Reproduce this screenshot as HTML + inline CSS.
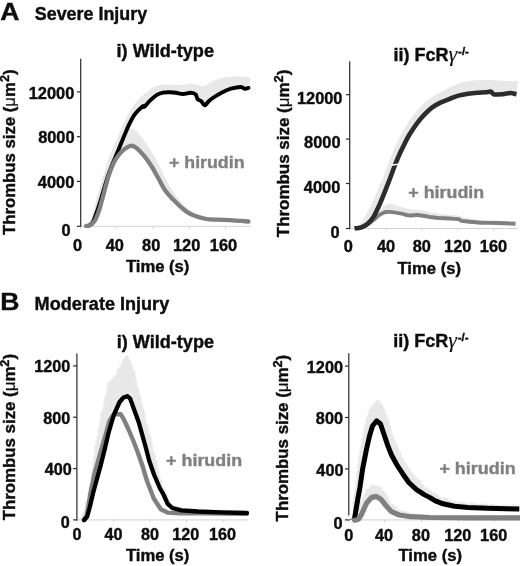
<!DOCTYPE html>
<html lang="en"><head><meta charset="utf-8"><title>Thrombus size figure</title>
<style>html,body{margin:0;padding:0;background:#fff;}body{width:520px;height:566px;overflow:hidden;}svg{display:block;font-family:'Liberation Sans', sans-serif;filter:blur(0.45px);}</style></head><body>
<svg width="520" height="566" viewBox="0 0 520 566">
<rect width="520" height="566" fill="#fff"/>
<text x="0.3" y="19.7" font-size="24.3" font-weight="bold" text-anchor="start" fill="#0d0d0d" stroke="#0d0d0d" stroke-width="0.4" textLength="19.2" lengthAdjust="spacingAndGlyphs">A</text>
<text x="34.8" y="20" font-size="18" font-weight="bold" text-anchor="start" fill="#0d0d0d" stroke="#0d0d0d" stroke-width="0.4" textLength="112.3" lengthAdjust="spacingAndGlyphs">Severe Injury</text>
<text x="0.2" y="310" font-size="24.3" font-weight="bold" text-anchor="start" fill="#0d0d0d" stroke="#0d0d0d" stroke-width="0.4" textLength="19.2" lengthAdjust="spacingAndGlyphs">B</text>
<text x="34.6" y="310" font-size="18" font-weight="bold" text-anchor="start" fill="#0d0d0d" stroke="#0d0d0d" stroke-width="0.4" textLength="134.6" lengthAdjust="spacingAndGlyphs">Moderate Injury</text>
<g id="chartAi">
<path d="M86.2,226 C86.7,225.6 88.1,225 89,223.5 C89.9,222 90.5,220.1 91.5,217 C92.5,213.9 93.7,209.5 95,205 C96.3,200.5 97.5,195.8 99.2,190 C100.9,184.2 103.1,176.2 105,170 C106.9,163.8 108.9,158 110.8,153 C112.7,148 114.3,145.2 116.5,140 C118.7,134.8 122,126.8 124.2,122 C126.5,117.2 127.9,114.5 130,111 C132.1,107.5 134.5,103.9 137,101 C139.5,98.1 142.5,95.7 145,93.5 C147.5,91.3 149.5,89.4 152,88 C154.5,86.6 157,85.8 160,85.2 C163,84.6 166.7,84.6 170,84.6 C173.3,84.6 176.5,85.1 180,85 C183.5,84.9 187.8,84 190.8,84 C193.8,84 195.8,84.6 198,85 C200.2,85.4 202,86.7 204,86.3 C206,85.9 207.7,83.7 210,82.5 C212.3,81.3 214.8,80.1 217.7,79.2 C220.6,78.3 224.1,77.5 227.3,77 C230.5,76.5 234.1,76.3 237,76.3 C239.9,76.3 242.7,76.5 245,76.8 C247.3,77.1 250,77.8 251,78 L248.5,87.9 C247.8,88.1 245.9,89 244.6,88.8 C243.3,88.6 243.1,87 240.8,87 C238.5,87 234.2,87.8 231,88.7 C227.8,89.7 224.7,91.1 221.5,92.7 C218.3,94.3 214.2,97 212,98.5 C209.8,100 209.2,100.8 208,102 C206.8,103.2 205.7,105.5 204.6,105.4 C203.5,105.3 202.5,102.4 201.3,101.3 C200.1,100.2 198.4,100.2 197.5,99 C196.6,97.8 196.7,95.5 195.6,94.4 C194.5,93.4 192.9,92.8 190.8,92.7 C188.7,92.6 185.5,94 183,94 C180.5,94 178.2,93.1 176,92.8 C173.8,92.5 172.2,92.3 170,92.3 C167.8,92.3 165,92.2 162.9,92.6 C160.8,93 159.5,93.3 157.3,94.6 C155.2,95.9 152.2,98.6 150,100.6 C147.8,102.6 145.6,105.8 144.3,106.8 C143.1,107.8 144,105.2 142.5,106.4 C141,107.6 137.3,111 135.2,113.8 C133,116.6 131.2,120.5 129.6,123.5 C128,126.5 127,129.1 125.8,132 C124.5,134.9 123.4,137.9 122.1,141 C120.8,144.1 119.8,146.6 118.2,150.4 C116.6,154.2 114.5,159 112.6,163.8 C110.7,168.7 108.7,173.6 106.8,179.5 C104.9,185.4 102.7,193.6 101,199 C99.3,204.4 98.1,208.2 96.8,212 C95.5,215.8 94.3,219.3 93.2,221.5 C92.1,223.7 91.1,224.2 90,225 C88.9,225.8 87.1,225.8 86.5,226 Z" fill="#e8e8e8" stroke="none"/>
<path d="M86.2,226 C87.1,225.4 90,224.2 91.5,222.5 C93,220.8 94.1,218.9 95.4,216 C96.7,213.1 97.8,210 99.2,205 C100.6,200 102.4,192.2 104,186 C105.6,179.8 107.2,173.2 108.8,167.5 C110.4,161.8 112.1,156.4 113.7,152 C115.3,147.6 116.8,144.2 118.5,141 C120.2,137.8 122.2,135.1 124.2,133 C126.2,130.9 128.5,128.9 130.4,128.5 C132.3,128.1 133.6,128.7 135.8,130.5 C138,132.3 140.9,136.2 143.5,139.6 C146.1,143 148.6,146.8 151.2,151 C153.8,155.2 156.2,159.6 158.8,164.5 C161.4,169.4 163.9,175.8 166.5,180.5 C169.1,185.2 171.8,189.4 174.2,193 C176.6,196.6 179.1,199.8 181.2,202.3 C183.3,204.8 184.7,206.1 186.9,208 C189.1,209.9 191.4,212 194.6,213.5 C197.8,215 202.3,216.3 206.2,217 C210,217.7 213.2,217.6 217.7,217.8 C222.2,218.1 227.6,218.2 233,218.5 C238.4,218.8 247.2,219.6 250,219.8 L248.5,221.5 C245.9,221.3 238.1,220.6 233,220.3 C227.9,220 222.2,219.9 217.7,219.7 C213.2,219.5 210,219.7 206.2,219 C202.3,218.3 197.8,217 194.6,215.8 C191.4,214.6 189.2,213.4 186.9,211.9 C184.6,210.4 183.2,209.1 181,207.1 C178.8,205.1 176,202.5 173.4,199.8 C170.8,197.1 167.9,194.4 165.4,190.8 C162.9,187.2 160.7,182.5 158.3,178.3 C155.9,174.1 153.7,169.7 151.2,165.8 C148.7,162 146.1,158.2 143.5,155.2 C140.9,152.1 138,149.1 135.8,147.5 C133.6,145.9 132.3,145.5 130.4,145.8 C128.5,146.1 126.2,147.8 124.2,149.4 C122.2,151 120.2,152.9 118.5,155.2 C116.8,157.4 115.3,159.5 113.7,162.9 C112.1,166.3 110.4,170.4 108.8,175.4 C107.2,180.4 105.6,186.9 104,192.7 C102.4,198.5 100.6,205.5 99.2,210 C97.8,214.5 96.6,217.2 95.4,219.6 C94.2,222 92.9,223.2 91.8,224.2 C90.7,225.2 89.9,225.2 89,225.5 C88.1,225.8 86.7,225.9 86.2,226 Z" fill="#e8e8e8" stroke="none"/>
<line x1="80.7" y1="226.3" x2="250.5" y2="226.3" stroke="#d2d2d2" stroke-width="1"/>
<line x1="80.5" y1="226.3" x2="80.5" y2="228.8" stroke="#d2d2d2" stroke-width="1"/>
<line x1="116.8" y1="226.3" x2="116.8" y2="228.8" stroke="#d2d2d2" stroke-width="1"/>
<line x1="153" y1="226.3" x2="153" y2="228.8" stroke="#d2d2d2" stroke-width="1"/>
<line x1="189.3" y1="226.3" x2="189.3" y2="228.8" stroke="#d2d2d2" stroke-width="1"/>
<line x1="225.5" y1="226.3" x2="225.5" y2="228.8" stroke="#d2d2d2" stroke-width="1"/>
<line x1="80.7" y1="58.8" x2="80.7" y2="226.8" stroke="#2a2a2a" stroke-width="1.2"/>
<line x1="76.9" y1="226.3" x2="80.7" y2="226.3" stroke="#2a2a2a" stroke-width="1.2"/>
<line x1="76.9" y1="181.4" x2="80.7" y2="181.4" stroke="#2a2a2a" stroke-width="1.2"/>
<line x1="76.9" y1="136.7" x2="80.7" y2="136.7" stroke="#2a2a2a" stroke-width="1.2"/>
<line x1="76.9" y1="91.9" x2="80.7" y2="91.9" stroke="#2a2a2a" stroke-width="1.2"/>
<text x="70.5" y="235.8" font-size="16.4" font-weight="bold" text-anchor="end" fill="#0d0d0d" stroke="#0d0d0d" stroke-width="0.4">0</text>
<text x="74.3" y="188.3" font-size="16.4" font-weight="bold" text-anchor="end" fill="#0d0d0d" stroke="#0d0d0d" stroke-width="0.4">4000</text>
<text x="74.6" y="142.8" font-size="16.4" font-weight="bold" text-anchor="end" fill="#0d0d0d" stroke="#0d0d0d" stroke-width="0.4">8000</text>
<text x="74.3" y="98.9" font-size="16.4" font-weight="bold" text-anchor="end" fill="#0d0d0d" stroke="#0d0d0d" stroke-width="0.4">12000</text>
<text x="77.5" y="251" font-size="16.4" font-weight="bold" text-anchor="middle" fill="#0d0d0d" stroke="#0d0d0d" stroke-width="0.4">0</text>
<text x="114.8" y="251" font-size="16.4" font-weight="bold" text-anchor="middle" fill="#0d0d0d" stroke="#0d0d0d" stroke-width="0.4">40</text>
<text x="151.2" y="251" font-size="16.4" font-weight="bold" text-anchor="middle" fill="#0d0d0d" stroke="#0d0d0d" stroke-width="0.4">80</text>
<text x="186.6" y="251" font-size="16.4" font-weight="bold" text-anchor="middle" fill="#0d0d0d" stroke="#0d0d0d" stroke-width="0.4">120</text>
<text x="223.5" y="251" font-size="16.4" font-weight="bold" text-anchor="middle" fill="#0d0d0d" stroke="#0d0d0d" stroke-width="0.4">160</text>
<text x="125.9" y="272.3" font-size="16.5" font-weight="bold" text-anchor="start" fill="#0d0d0d" stroke="#0d0d0d" stroke-width="0.4" textLength="63.5" lengthAdjust="spacingAndGlyphs">Time (s)</text>
<text transform="translate(15.1,235) rotate(-90)" font-size="16" font-weight="bold" fill="#0d0d0d" stroke="#0d0d0d" stroke-width="0.4" textLength="165.5" lengthAdjust="spacingAndGlyphs">Thrombus size (<tspan font-weight="normal" stroke-width="0.15">&#956;</tspan>m<tspan font-size="12" dy="-6">2</tspan><tspan dy="6">)</tspan></text>
<path d="M86.5,226 C87.1,225.8 88.9,225.8 90,225 C91.1,224.2 92.1,223.7 93.2,221.5 C94.3,219.3 95.5,215.8 96.8,212 C98.1,208.2 99.3,204.4 101,199 C102.7,193.6 104.9,185.4 106.8,179.5 C108.7,173.6 110.7,168.7 112.6,163.8 C114.5,159 116.6,154.2 118.2,150.4 C119.8,146.6 120.8,144.1 122.1,141 C123.4,137.9 124.5,134.9 125.8,132 C127,129.1 128,126.5 129.6,123.5 C131.2,120.5 133,116.6 135.2,113.8 C137.3,111 141,107.6 142.5,106.4 C144,105.2 143.1,107.8 144.3,106.8 C145.6,105.8 147.8,102.6 150,100.6 C152.2,98.6 155.2,95.9 157.3,94.6 C159.5,93.3 160.8,93 162.9,92.6 C165,92.2 167.8,92.3 170,92.3 C172.2,92.3 173.8,92.5 176,92.8 C178.2,93.1 180.5,94 183,94 C185.5,94 188.7,92.6 190.8,92.7 C192.9,92.8 194.5,93.4 195.6,94.4 C196.7,95.5 196.6,97.8 197.5,99 C198.4,100.2 200.1,100.2 201.3,101.3 C202.5,102.4 203.5,105.3 204.6,105.4 C205.7,105.5 206.8,103.2 208,102 C209.2,100.8 209.8,100 212,98.5 C214.2,97 218.3,94.3 221.5,92.7 C224.7,91.1 227.8,89.7 231,88.7 C234.2,87.8 238.5,87 240.8,87 C243.1,87 243.3,88.6 244.6,88.8 C245.9,89 247.8,88.1 248.5,87.9" fill="none" stroke="#000" stroke-width="3.9" stroke-linejoin="round" stroke-linecap="round"/>
<path d="M86.2,226 C86.7,225.9 88.1,225.8 89,225.5 C89.9,225.2 90.7,225.2 91.8,224.2 C92.9,223.2 94.2,222 95.4,219.6 C96.6,217.2 97.8,214.5 99.2,210 C100.6,205.5 102.4,198.5 104,192.7 C105.6,186.9 107.2,180.4 108.8,175.4 C110.4,170.4 112.1,166.3 113.7,162.9 C115.3,159.5 116.8,157.4 118.5,155.2 C120.2,152.9 122.2,151 124.2,149.4 C126.2,147.8 128.5,146.1 130.4,145.8 C132.3,145.5 133.6,145.9 135.8,147.5 C138,149.1 140.9,152.1 143.5,155.2 C146.1,158.2 148.7,162 151.2,165.8 C153.7,169.7 155.9,174.1 158.3,178.3 C160.7,182.5 162.9,187.2 165.4,190.8 C167.9,194.4 170.8,197.1 173.4,199.8 C176,202.5 178.8,205.1 181,207.1 C183.2,209.1 184.6,210.4 186.9,211.9 C189.2,213.4 191.4,214.6 194.6,215.8 C197.8,217 202.3,218.3 206.2,219 C210,219.7 213.2,219.5 217.7,219.7 C222.2,219.9 227.9,220 233,220.3 C238.1,220.6 245.9,221.3 248.5,221.5" fill="none" stroke="#808080" stroke-width="4.3" stroke-linejoin="round" stroke-linecap="round"/>
<text x="169" y="168.2" font-size="17.4" font-weight="bold" text-anchor="start" fill="#808080" stroke="#808080" stroke-width="0.4" textLength="75.5" lengthAdjust="spacingAndGlyphs">+ hirudin</text>
<text x="116.6" y="57.1" font-size="18" font-weight="bold" text-anchor="start" fill="#0d0d0d" stroke="#0d0d0d" stroke-width="0.4" textLength="97.4" lengthAdjust="spacingAndGlyphs">i) Wild-type</text>
</g>
<g id="chartAii">
<path d="M354.4,228.3 C355.1,227.9 357.2,227.1 358.5,226 C359.8,224.9 360.7,224 362,222 C363.3,220 364.8,217.3 366.5,214 C368.2,210.7 370.6,206.2 372.5,202 C374.4,197.8 376.3,193.4 378.2,189 C380.1,184.6 382.2,179.9 384,175.5 C385.8,171.1 387.2,166.7 388.8,162.5 C390.4,158.3 392.1,154.1 393.6,150.5 C395.1,146.9 396.4,144.2 398,141 C399.6,137.8 400.9,134.7 403,131 C405.1,127.3 408,122.6 410.5,119 C413,115.4 415.6,112.2 418,109.5 C420.4,106.8 422.2,105.1 424.6,103 C427,100.9 429.7,98.7 432.3,97 C434.9,95.3 437.2,94.3 440,92.8 C442.8,91.3 445.7,89.3 448.8,87.8 C451.9,86.3 455.3,84.7 458.5,83.6 C461.7,82.5 464.8,81.6 468,81 C471.2,80.4 474.5,80.4 477.7,80.2 C480.9,80 484.1,79.7 487.3,79.8 C490.5,79.9 493.8,80.4 497,80.6 C500.2,80.8 503,80.9 506.5,81 C510,81.1 516.1,81 518,81 L516.5,94.2 C515.5,94 512.7,93 510.4,93 C508.1,93 505.4,94 502.7,94.2 C500,94.4 495.9,94.8 494,94.4 C492.1,94 492.4,92.1 491,91.7 C489.6,91.3 487.6,92.1 485.4,92.3 C483.2,92.5 480.6,92.5 477.7,92.7 C474.8,92.9 471.2,93.2 468,93.7 C464.8,94.2 461.4,94.8 458.5,95.6 C455.6,96.4 453.9,97.3 450.8,98.5 C447.7,99.7 443.1,101.4 440,102.9 C436.9,104.4 434.9,105.5 432.3,107.4 C429.7,109.3 427.2,111.7 424.6,114.3 C422.1,116.9 419.6,119.8 417,123.3 C414.4,126.8 411.4,131.4 409.2,135 C407,138.6 405.6,141.8 404,145 C402.4,148.2 401.1,150.6 399.6,154 C398.1,157.4 396.4,161.4 394.8,165.5 C393.2,169.6 391.7,174.1 390,178.5 C388.3,182.9 386.6,187.4 384.8,191.9 C383,196.4 381.1,201.2 379.2,205.4 C377.3,209.6 375.4,213.9 373.5,216.9 C371.6,219.9 369.6,222 367.7,223.7 C365.8,225.4 363.5,226.5 362,227.2 C360.5,227.9 359.7,227.8 358.5,228 C357.3,228.2 355.2,228.2 354.6,228.3 Z" fill="#e8e8e8" stroke="none"/>
<path d="M354.6,228.3 C356.7,227.7 363.6,226.2 366.9,224.6 C370.2,223 372.7,220.8 374.6,219 C376.5,217.2 377.1,215.6 378.3,213.8 C379.5,212 380.7,209.8 382,208.2 C383.3,206.6 384.9,205.1 386.2,204.4 C387.5,203.7 388.7,203.8 390,203.8 C391.3,203.8 392.1,203.9 394,204.4 C395.9,204.9 399,206 401.5,206.8 C404,207.6 406.6,208.8 409.2,209.2 C411.8,209.6 414.4,209.2 417,209.5 C419.6,209.8 422.1,210.3 424.6,210.8 C427.2,211.3 429.7,212.1 432.3,212.6 C434.9,213.1 437.2,213.4 440,213.8 C442.8,214.2 445.7,214.5 448.8,214.8 C451.9,215.1 455,215.1 458.5,215.8 C462,216.5 466.2,218.1 470,218.8 C473.8,219.5 477,219.9 481.5,220.2 C486,220.5 491.1,220.4 497,220.6 C502.9,220.8 513.7,221.3 517,221.4 L515.5,223.7 C512.4,223.6 502.7,223.2 497,223 C491.3,222.8 486,222.9 481.5,222.7 C477,222.5 473.4,222 470,221.7 C466.6,221.4 463.2,221.2 461.3,220.8 C459.4,220.4 460.6,219.6 458.5,219.2 C456.4,218.8 451.9,218.7 448.8,218.5 C445.7,218.3 442.8,218.3 440,218.1 C437.2,217.9 434.9,217.7 432.3,217.3 C429.7,217 427.2,216.4 424.6,216 C422.1,215.6 419.6,215.1 417,215 C414.4,214.9 411.8,215.6 409.2,215.4 C406.6,215.2 404.4,214.2 401.5,213.7 C398.6,213.1 394.6,212.4 392,212.1 C389.4,211.8 387.9,211.8 386.2,212 C384.5,212.2 383.3,212.8 382,213.4 C380.7,214 379.5,214.9 378.3,215.8 C377.1,216.7 375.8,218 374.6,219 C373.4,220 372.3,221.1 371,222 C369.7,222.9 368.5,223.7 366.9,224.6 C365.3,225.5 363.2,226.9 361.2,227.5 C359.1,228.1 355.7,228.2 354.6,228.3 Z" fill="#e8e8e8" stroke="none"/>
<line x1="349.7" y1="228.5" x2="518" y2="228.5" stroke="#d2d2d2" stroke-width="1"/>
<line x1="349.7" y1="228.5" x2="349.7" y2="231" stroke="#d2d2d2" stroke-width="1"/>
<line x1="385.8" y1="228.5" x2="385.8" y2="231" stroke="#d2d2d2" stroke-width="1"/>
<line x1="421.8" y1="228.5" x2="421.8" y2="231" stroke="#d2d2d2" stroke-width="1"/>
<line x1="458" y1="228.5" x2="458" y2="231" stroke="#d2d2d2" stroke-width="1"/>
<line x1="493.8" y1="228.5" x2="493.8" y2="231" stroke="#d2d2d2" stroke-width="1"/>
<line x1="349.7" y1="61.2" x2="349.7" y2="229" stroke="#2a2a2a" stroke-width="1.2"/>
<line x1="345.9" y1="228.5" x2="349.7" y2="228.5" stroke="#2a2a2a" stroke-width="1.2"/>
<line x1="345.9" y1="183.5" x2="349.7" y2="183.5" stroke="#2a2a2a" stroke-width="1.2"/>
<line x1="345.9" y1="139.1" x2="349.7" y2="139.1" stroke="#2a2a2a" stroke-width="1.2"/>
<line x1="345.9" y1="94.7" x2="349.7" y2="94.7" stroke="#2a2a2a" stroke-width="1.2"/>
<text x="339.7" y="237.7" font-size="16.4" font-weight="bold" text-anchor="end" fill="#0d0d0d" stroke="#0d0d0d" stroke-width="0.4">0</text>
<text x="340.3" y="192.6" font-size="16.4" font-weight="bold" text-anchor="end" fill="#0d0d0d" stroke="#0d0d0d" stroke-width="0.4">4000</text>
<text x="340.5" y="147.8" font-size="16.4" font-weight="bold" text-anchor="end" fill="#0d0d0d" stroke="#0d0d0d" stroke-width="0.4">8000</text>
<text x="342.5" y="103.7" font-size="16.4" font-weight="bold" text-anchor="end" fill="#0d0d0d" stroke="#0d0d0d" stroke-width="0.4">12000</text>
<text x="348.3" y="252.3" font-size="16.4" font-weight="bold" text-anchor="middle" fill="#0d0d0d" stroke="#0d0d0d" stroke-width="0.4">0</text>
<text x="386" y="252.3" font-size="16.4" font-weight="bold" text-anchor="middle" fill="#0d0d0d" stroke="#0d0d0d" stroke-width="0.4">40</text>
<text x="421.8" y="252.3" font-size="16.4" font-weight="bold" text-anchor="middle" fill="#0d0d0d" stroke="#0d0d0d" stroke-width="0.4">80</text>
<text x="457.7" y="252.3" font-size="16.4" font-weight="bold" text-anchor="middle" fill="#0d0d0d" stroke="#0d0d0d" stroke-width="0.4">120</text>
<text x="493.5" y="252.3" font-size="16.4" font-weight="bold" text-anchor="middle" fill="#0d0d0d" stroke="#0d0d0d" stroke-width="0.4">160</text>
<text x="397.5" y="273.6" font-size="16.5" font-weight="bold" text-anchor="start" fill="#0d0d0d" stroke="#0d0d0d" stroke-width="0.4" textLength="63.5" lengthAdjust="spacingAndGlyphs">Time (s)</text>
<text transform="translate(288.6,237.2) rotate(-90)" font-size="16" font-weight="bold" fill="#0d0d0d" stroke="#0d0d0d" stroke-width="0.4" textLength="167.5" lengthAdjust="spacingAndGlyphs">Thrombus size (<tspan font-weight="normal" stroke-width="0.15">&#956;</tspan>m<tspan font-size="12" dy="-6">2</tspan><tspan dy="6">)</tspan></text>
<path d="M354.6,228.3 C355.7,228.2 359.1,228.1 361.2,227.5 C363.2,226.9 365.3,225.5 366.9,224.6 C368.5,223.7 369.7,222.9 371,222 C372.3,221.1 373.4,220 374.6,219 C375.8,218 377.1,216.7 378.3,215.8 C379.5,214.9 380.7,214 382,213.4 C383.3,212.8 384.5,212.2 386.2,212 C387.9,211.8 389.4,211.8 392,212.1 C394.6,212.4 398.6,213.1 401.5,213.7 C404.4,214.2 406.6,215.2 409.2,215.4 C411.8,215.6 414.4,214.9 417,215 C419.6,215.1 422.1,215.6 424.6,216 C427.2,216.4 429.7,217 432.3,217.3 C434.9,217.7 437.2,217.9 440,218.1 C442.8,218.3 445.7,218.3 448.8,218.5 C451.9,218.7 456.4,218.8 458.5,219.2 C460.6,219.6 459.4,220.4 461.3,220.8 C463.2,221.2 466.6,221.4 470,221.7 C473.4,222 477,222.5 481.5,222.7 C486,222.9 491.3,222.8 497,223 C502.7,223.2 512.4,223.6 515.5,223.7" fill="none" stroke="#808080" stroke-width="3.9" stroke-linejoin="round" stroke-linecap="butt"/>
<path d="M354.6,228.3 C355.2,228.2 357.3,228.2 358.5,228 C359.7,227.8 360.5,227.9 362,227.2 C363.5,226.5 365.8,225.4 367.7,223.7 C369.6,222 371.6,219.9 373.5,216.9 C375.4,213.9 377.3,209.6 379.2,205.4 C381.1,201.2 383,196.4 384.8,191.9 C386.6,187.4 388.3,182.9 390,178.5 C391.7,174.1 393.2,169.6 394.8,165.5 C396.4,161.4 398.1,157.4 399.6,154 C401.1,150.6 402.4,148.2 404,145 C405.6,141.8 407,138.6 409.2,135 C411.4,131.4 414.4,126.8 417,123.3 C419.6,119.8 422.1,116.9 424.6,114.3 C427.2,111.7 429.7,109.3 432.3,107.4 C434.9,105.5 436.9,104.4 440,102.9 C443.1,101.4 447.7,99.7 450.8,98.5 C453.9,97.3 455.6,96.4 458.5,95.6 C461.4,94.8 464.8,94.2 468,93.7 C471.2,93.2 474.8,92.9 477.7,92.7 C480.6,92.5 483.2,92.5 485.4,92.3 C487.6,92.1 489.6,91.3 491,91.7 C492.4,92.1 492.1,94 494,94.4 C495.9,94.8 500,94.4 502.7,94.2 C505.4,94 508.1,93 510.4,93 C512.7,93 515.5,94 516.5,94.2" fill="none" stroke="#2c2c2c" stroke-width="4.6" stroke-linejoin="round" stroke-linecap="butt"/>
<line x1="391.6" y1="165.3" x2="398.2" y2="164.1" stroke="#fff" stroke-width="1.4"/>
<text x="408.3" y="197.6" font-size="17.4" font-weight="bold" text-anchor="start" fill="#808080" stroke="#808080" stroke-width="0.4" textLength="75.9" lengthAdjust="spacingAndGlyphs">+ hirudin</text>
<text x="393.6" y="61.2" font-size="18" font-weight="bold" fill="#0d0d0d" stroke="#0d0d0d" stroke-width="0.4">ii) FcR<tspan font-weight="normal" stroke-width="0.1" font-style="italic" font-family="'Liberation Serif',serif" font-size="22">&#947;</tspan><tspan font-size="11.5" dy="-6.5" dx="0.8">-/-</tspan></text>
</g>
<g id="chartBi">
<path d="M79.5,520 L80.5,520 L80.5,517.6 L81.5,517.6 L81.5,514.7 L82.5,514.7 L82.5,512.9 L83.5,512.9 L83.5,510.5 L84.5,510.5 L84.5,504.3 L85.5,504.3 L85.5,500.1 L86.5,500.1 L86.5,499.3 L87.5,499.3 L87.5,493 L88.5,493 L88.5,486.4 L89.5,486.4 L89.5,483 L90.5,483 L90.5,474.4 L91.5,474.4 L91.5,469.3 L92.5,469.3 L92.5,460.9 L93.5,460.9 L93.5,454.6 L94.5,454.6 L94.5,445.6 L95.5,445.6 L95.5,440.5 L96.5,440.5 L96.5,436.2 L97.5,436.2 L97.5,429.6 L98.5,429.6 L98.5,425.3 L99.5,425.3 L99.5,419.8 L100.5,419.8 L100.5,412.8 L101.5,412.8 L101.5,411.6 L102.5,411.6 L102.5,406.9 L103.5,406.9 L103.5,401.7 L104.5,401.7 L104.5,396.6 L105.5,396.6 L105.5,394.5 L106.5,394.5 L106.5,387 L107.5,387 L107.5,382.2 L108.5,382.2 L108.5,382 L109.5,382 L109.5,380.5 L110.5,380.5 L110.5,380.5 L111.5,380.5 L111.5,377.6 L112.5,377.6 L112.5,378 L113.5,378 L113.5,375.4 L114.5,375.4 L114.5,376.2 L115.5,376.2 L115.5,374.8 L116.5,374.8 L116.5,370.1 L117.5,370.1 L117.5,368.4 L118.5,368.4 L118.5,366.8 L119.5,366.8 L119.5,367.9 L120.5,367.9 L120.5,363.8 L121.5,363.8 L121.5,362.7 L122.5,362.7 L122.5,359.7 L123.5,359.7 L123.5,359.2 L124.5,359.2 L124.5,357.3 L125.5,357.3 L125.5,355.8 L126.5,355.8 L126.5,355.4 L127.5,355.4 L127.5,355.7 L128.5,355.7 L128.5,358.8 L129.5,358.8 L129.5,359.7 L130.5,359.7 L130.5,362.5 L131.5,362.5 L131.5,365.1 L132.5,365.1 L132.5,368.6 L133.5,368.6 L133.5,370.4 L134.5,370.4 L134.5,371.4 L135.5,371.4 L135.5,377.8 L136.5,377.8 L136.5,382.4 L137.5,382.4 L137.5,386.5 L138.5,386.5 L138.5,389.4 L139.5,389.4 L139.5,394.4 L140.5,394.4 L140.5,396.8 L141.5,396.8 L141.5,403.6 L142.5,403.6 L142.5,406.9 L143.5,406.9 L143.5,409.8 L144.5,409.8 L144.5,413 L145.5,413 L145.5,420.2 L146.5,420.2 L146.5,424.7 L147.5,424.7 L147.5,425 L148.5,425 L148.5,431.7 L149.5,431.7 L149.5,434.1 L150.5,434.1 L150.5,437.1 L151.5,437.1 L151.5,441.8 L152.5,441.8 L152.5,447.8 L153.5,447.8 L153.5,452.4 L154.5,452.4 L154.5,453.2 L155.5,453.2 L155.5,459.5 L156.5,459.5 L156.5,461.2 L157.5,461.2 L157.5,467.9 L158.5,467.9 L158.5,470.3 L159.5,470.3 L159.5,476.5 L160.5,476.5 L160.5,480.1 L161.5,480.1 L161.5,481.4 L162.5,481.4 L162.5,486.5 L163.5,486.5 L163.5,486.9 L164.5,486.9 L164.5,489.4 L165.5,489.4 L165.5,494.3 L166.5,494.3 L166.5,494.3 L167.5,494.3 L167.5,496.7 L168.5,496.7 L168.5,499.2 L169.5,499.2 L169.5,501.6 L170.5,501.6 L170.5,502.5 L171.5,502.5 L171.5,504.4 L172.5,504.4 L172.5,505.8 L173.5,505.8 L173.5,505.3 L174.5,505.3 L174.5,506.5 L175.5,506.5 L175.5,506.7 L176.5,506.7 L176.5,506.2 L177.5,506.2 L177.5,506.6 L178.5,506.6 L178.5,507 L179.5,507 L179.5,507.4 L180.5,507.4 L180.5,507.6 L181.5,507.6 L181.5,507.9 L182.5,507.9 L182.5,508 L183.5,508 L183.5,508.5 L184.5,508.5 L184.5,508.1 L185.5,508.1 L185.5,508 L186.5,508 L186.5,508.5 L187.5,508.5 L187.5,508 L188.5,508 L188.5,508.1 L189.5,508.1 L189.5,509.1 L190.5,509.1 L190.5,508.6 L191.5,508.6 L191.5,508.7 L192.5,508.7 L192.5,508.1 L193.5,508.1 L193.5,508.7 L194.5,508.7 L194.5,509 L195.5,509 L195.5,508.4 L196.5,508.4 L196.5,509.2 L197.5,509.2 L197.5,509.3 L198.5,509.3 L198.5,508.7 L199.5,508.7 L199.5,509.4 L200.5,509.4 L200.5,509.3 L201.5,509.3 L201.5,509.6 L202.5,509.6 L202.5,509.2 L203.5,509.2 L203.5,509.7 L204.5,509.7 L204.5,509.7 L205.5,509.7 L205.5,508.9 L206.5,508.9 L206.5,509 L207.5,509 L207.5,509.8 L208.5,509.8 L208.5,510.1 L209.5,510.1 L209.5,509.3 L210.5,509.3 L210.5,509.6 L211.5,509.6 L211.5,509.8 L212.5,509.8 L212.5,509.5 L213.5,509.5 L213.5,509.6 L214.5,509.6 L214.5,509.6 L215.5,509.6 L215.5,509.7 L216.5,509.7 L216.5,510 L217.5,510 L217.5,509.6 L218.5,509.6 L218.5,509.8 L219.5,509.8 L219.5,510.3 L220.5,510.3 L220.5,509.4 L221.5,509.4 L221.5,510.1 L222.5,510.1 L222.5,510.3 L223.5,510.3 L223.5,509.8 L224.5,509.8 L224.5,509.8 L225.5,509.8 L225.5,510.5 L226.5,510.5 L226.5,509.9 L227.5,509.9 L227.5,509.8 L228.5,509.8 L228.5,510.1 L229.5,510.1 L229.5,510.5 L230.5,510.5 L230.5,509.8 L231.5,509.8 L231.5,510.1 L232.5,510.1 L232.5,510.2 L233.5,510.2 L233.5,510.8 L234.5,510.8 L234.5,510.3 L235.5,510.3 L235.5,510.9 L236.5,510.9 L236.5,510.1 L237.5,510.1 L237.5,510.3 L238.5,510.3 L238.5,510.7 L239.5,510.7 L239.5,511 L240.5,511 L240.5,510.6 L241.5,510.6 L241.5,510.3 L242.5,510.3 L242.5,510.2 L243.5,510.2 L243.5,510.7 L244.5,510.7 L244.5,510.4 L245.5,510.4 L245.5,511.1 L246.5,511.1 L246.5,511.2 L247.5,511.2 L247,513 L246,513 L245,513 L244,512.9 L243,512.9 L242,512.9 L241,512.9 L240,512.8 L239,512.8 L238,512.8 L237,512.8 L236,512.7 L235,512.7 L234,512.7 L233,512.7 L232,512.7 L231,512.6 L230,512.6 L229,512.6 L228,512.6 L227,512.5 L226,512.5 L225,512.5 L224,512.5 L223,512.5 L222,512.4 L221,512.4 L220,512.4 L219,512.3 L218,512.3 L217,512.3 L216,512.2 L215,512.2 L214,512.1 L213,512.1 L212,512.1 L211,512 L210,512 L209,511.9 L208,511.9 L207,511.9 L206,511.8 L205,511.8 L204,511.7 L203,511.7 L202,511.7 L201,511.6 L200,511.6 L199,511.6 L198,511.5 L197,511.4 L196,511.4 L195,511.3 L194,511.2 L193,511.2 L192,511.1 L191,511 L190,510.9 L189,510.9 L188,510.8 L187,510.7 L186,510.6 L185,510.6 L184,510.5 L183,510.4 L182,510.3 L181,510.2 L180,509.9 L179,509.7 L178,509.4 L177,509.2 L176,508.9 L175,508.7 L174,508.4 L173,508.2 L172,507.7 L171,506.8 L170,505.9 L169,505 L168,504.1 L167,502.3 L166,500 L165,497.8 L164,495.6 L163,493.6 L162,491.9 L161,490.2 L160,488.5 L159,486.2 L158,483.8 L157,481.5 L156,479.2 L155,476.9 L154,474.4 L153,471.6 L152,468.7 L151,465.9 L150,463 L149,459.9 L148,456 L147,452.2 L146,448.4 L145,444.7 L144,441.1 L143,437.5 L142,433.9 L141,430.4 L140,426.8 L139,423.2 L138,420.3 L137,417.5 L136,414.7 L135,412 L134,409.2 L133,406.4 L132,403.7 L131,400.9 L130,398.5 L129,397.7 L128,396.8 L127,396.3 L126,396.6 L125,397 L124,397.3 L123,398.1 L122,399.2 L121,400.4 L120,401.5 L119,403.3 L118,405.6 L117,407.8 L116,410.1 L115,412.3 L114,414.6 L113,415.5 L112,417 L111,418.6 L110,420.1 L109,422.5 L108,426.1 L107,429.7 L106,433.3 L105,437 L104,440.5 L103,443.9 L102,447.4 L101,450.8 L100,454.2 L99,457.7 L98,461.3 L97,464.9 L96,468.5 L95,472.1 L94,476.1 L93,481 L92,485.8 L91,490.6 L90,496.1 L89,502.7 L88,508.6 L87,513.9 L86,516.9 L85,518.3 L84,519.7 L83,520 L82,520 L81,520 L80,520 Z" fill="#e8e8e8" stroke="none"/>
<line x1="76.9" y1="519.9" x2="248.5" y2="519.9" stroke="#d2d2d2" stroke-width="1"/>
<line x1="76.9" y1="519.9" x2="76.9" y2="522.4" stroke="#d2d2d2" stroke-width="1"/>
<line x1="113.5" y1="519.9" x2="113.5" y2="522.4" stroke="#d2d2d2" stroke-width="1"/>
<line x1="150.1" y1="519.9" x2="150.1" y2="522.4" stroke="#d2d2d2" stroke-width="1"/>
<line x1="186.4" y1="519.9" x2="186.4" y2="522.4" stroke="#d2d2d2" stroke-width="1"/>
<line x1="223.2" y1="519.9" x2="223.2" y2="522.4" stroke="#d2d2d2" stroke-width="1"/>
<line x1="76.9" y1="353.5" x2="76.9" y2="520.4" stroke="#2a2a2a" stroke-width="1.2"/>
<line x1="73.1" y1="519.9" x2="76.9" y2="519.9" stroke="#2a2a2a" stroke-width="1.2"/>
<line x1="73.1" y1="468.6" x2="76.9" y2="468.6" stroke="#2a2a2a" stroke-width="1.2"/>
<line x1="73.1" y1="417.2" x2="76.9" y2="417.2" stroke="#2a2a2a" stroke-width="1.2"/>
<line x1="73.1" y1="365.9" x2="76.9" y2="365.9" stroke="#2a2a2a" stroke-width="1.2"/>
<text x="69.7" y="527.7" font-size="16.2" font-weight="bold" text-anchor="end" fill="#0d0d0d" stroke="#0d0d0d" stroke-width="0.4">0</text>
<text x="71.7" y="474.9" font-size="16.2" font-weight="bold" text-anchor="end" fill="#0d0d0d" stroke="#0d0d0d" stroke-width="0.4">400</text>
<text x="70.3" y="423.5" font-size="16.2" font-weight="bold" text-anchor="end" fill="#0d0d0d" stroke="#0d0d0d" stroke-width="0.4">800</text>
<text x="70.3" y="372.2" font-size="16.2" font-weight="bold" text-anchor="end" fill="#0d0d0d" stroke="#0d0d0d" stroke-width="0.4">1200</text>
<text x="76.9" y="539.8" font-size="16.2" font-weight="bold" text-anchor="middle" fill="#0d0d0d" stroke="#0d0d0d" stroke-width="0.4">0</text>
<text x="113.5" y="539.8" font-size="16.2" font-weight="bold" text-anchor="middle" fill="#0d0d0d" stroke="#0d0d0d" stroke-width="0.4">40</text>
<text x="150.1" y="539.8" font-size="16.2" font-weight="bold" text-anchor="middle" fill="#0d0d0d" stroke="#0d0d0d" stroke-width="0.4">80</text>
<text x="185.7" y="539.8" font-size="16.2" font-weight="bold" text-anchor="middle" fill="#0d0d0d" stroke="#0d0d0d" stroke-width="0.4">120</text>
<text x="222.5" y="539.8" font-size="16.2" font-weight="bold" text-anchor="middle" fill="#0d0d0d" stroke="#0d0d0d" stroke-width="0.4">160</text>
<text x="125.9" y="560.9" font-size="16.5" font-weight="bold" text-anchor="start" fill="#0d0d0d" stroke="#0d0d0d" stroke-width="0.4" textLength="63.5" lengthAdjust="spacingAndGlyphs">Time (s)</text>
<text transform="translate(15.2,520.3) rotate(-90)" font-size="16" font-weight="bold" fill="#0d0d0d" stroke="#0d0d0d" stroke-width="0.4" textLength="166.3" lengthAdjust="spacingAndGlyphs">Thrombus size (<tspan font-weight="normal" stroke-width="0.15">&#956;</tspan>m<tspan font-size="12" dy="-6">2</tspan><tspan dy="6">)</tspan></text>
<path d="M83.8,520 L86.6,516 L88.5,506 L90.4,493.5 L94.4,474.2 L99.2,457 L104.8,437.7 L109.4,421 L113,415.5 L115.8,414 L120.6,414.2 L123.5,418.8 L128.3,429 L133,440 L138,453 L142.5,466 L147,481 L153.8,498.5 L160.8,509.2 L167.7,512.6 L180,513.2 L200,513.4 L247,513.8" fill="none" stroke="#808080" stroke-width="4.4" stroke-linejoin="round" stroke-linecap="round"/>
<path d="M84.2,520 L87.2,516.5 L89.8,507 L93.5,491.5 L97.2,478 L100.9,464.6 L104.8,449 L108.5,433 L113.8,415 L119.6,402 L123.5,397.5 L127.3,396.2 L130.2,398.7 L134,409.2 L138.8,422.5 L142.3,435 L145.5,446.5 L149.3,461 L154.2,475 L160,488.5 L163.5,494.5 L167.7,503.8 L172.3,508 L181.5,510.3 L197.7,511.5 L220.8,512.4 L247,513" fill="none" stroke="#000" stroke-width="4.3" stroke-linejoin="round" stroke-linecap="round"/>
<text x="166.1" y="466.4" font-size="17.4" font-weight="bold" text-anchor="start" fill="#808080" stroke="#808080" stroke-width="0.4" textLength="76" lengthAdjust="spacingAndGlyphs">+ hirudin</text>
<text x="116.8" y="348.3" font-size="18" font-weight="bold" text-anchor="start" fill="#0d0d0d" stroke="#0d0d0d" stroke-width="0.4" textLength="97.2" lengthAdjust="spacingAndGlyphs">i) Wild-type</text>
</g>
<g id="chartBii">
<path d="M352.5,501.2 L353.5,501.2 L353.5,494.4 L354.5,494.4 L354.5,487.3 L355.5,487.3 L355.5,479.8 L356.5,479.8 L356.5,471.4 L357.5,471.4 L357.5,464.4 L358.5,464.4 L358.5,455 L359.5,455 L359.5,449.4 L360.5,449.4 L360.5,444.6 L361.5,444.6 L361.5,438.4 L362.5,438.4 L362.5,433.8 L363.5,433.8 L363.5,426.9 L364.5,426.9 L364.5,424 L365.5,424 L365.5,419.4 L366.5,419.4 L366.5,416.6 L367.5,416.6 L367.5,414.1 L368.5,414.1 L368.5,409.9 L369.5,409.9 L369.5,407.8 L370.5,407.8 L370.5,405.4 L371.5,405.4 L371.5,406.2 L372.5,406.2 L372.5,404.8 L373.5,404.8 L373.5,402.2 L374.5,402.2 L374.5,403 L375.5,403 L375.5,400.2 L376.5,400.2 L376.5,400.6 L377.5,400.6 L377.5,400 L378.5,400 L378.5,400.5 L379.5,400.5 L379.5,403.7 L380.5,403.7 L380.5,402.6 L381.5,402.6 L381.5,403.4 L382.5,403.4 L382.5,406.4 L383.5,406.4 L383.5,408.6 L384.5,408.6 L384.5,409.5 L385.5,409.5 L385.5,414 L386.5,414 L386.5,415.3 L387.5,415.3 L387.5,418.8 L388.5,418.8 L388.5,420.8 L389.5,420.8 L389.5,426.2 L390.5,426.2 L390.5,428.9 L391.5,428.9 L391.5,432.8 L392.5,432.8 L392.5,435.6 L393.5,435.6 L393.5,436.9 L394.5,436.9 L394.5,440.1 L395.5,440.1 L395.5,442.6 L396.5,442.6 L396.5,445 L397.5,445 L397.5,446.8 L398.5,446.8 L398.5,449.4 L399.5,449.4 L399.5,452.3 L400.5,452.3 L400.5,452.6 L401.5,452.6 L401.5,456.5 L402.5,456.5 L402.5,457.4 L403.5,457.4 L403.5,459 L404.5,459 L404.5,462.2 L405.5,462.2 L405.5,462.9 L406.5,462.9 L406.5,464.2 L407.5,464.2 L407.5,466.4 L408.5,466.4 L408.5,468.7 L409.5,468.7 L409.5,468.4 L410.5,468.4 L410.5,472.2 L411.5,472.2 L411.5,470.8 L412.5,470.8 L412.5,474.1 L413.5,474.1 L413.5,475.6 L414.5,475.6 L414.5,474.5 L415.5,474.5 L415.5,477.9 L416.5,477.9 L416.5,478 L417.5,478 L417.5,479.7 L418.5,479.7 L418.5,479 L419.5,479 L419.5,480.1 L420.5,480.1 L420.5,481.4 L421.5,481.4 L421.5,484.5 L422.5,484.5 L422.5,483.3 L423.5,483.3 L423.5,485.8 L424.5,485.8 L424.5,487.2 L425.5,487.2 L425.5,488.1 L426.5,488.1 L426.5,487.1 L427.5,487.1 L427.5,487.8 L428.5,487.8 L428.5,489 L429.5,489 L429.5,490.4 L430.5,490.4 L430.5,489.2 L431.5,489.2 L431.5,491.7 L432.5,491.7 L432.5,492.5 L433.5,492.5 L433.5,493.3 L434.5,493.3 L434.5,491.6 L435.5,491.6 L435.5,494.8 L436.5,494.8 L436.5,493 L437.5,493 L437.5,494.3 L438.5,494.3 L438.5,495.7 L439.5,495.7 L439.5,497.2 L440.5,497.2 L440.5,496.2 L441.5,496.2 L441.5,498.2 L442.5,498.2 L442.5,497.5 L443.5,497.5 L443.5,497.3 L444.5,497.3 L444.5,497.7 L445.5,497.7 L445.5,497.7 L446.5,497.7 L446.5,497.8 L447.5,497.8 L447.5,498.4 L448.5,498.4 L448.5,500.3 L449.5,500.3 L449.5,501.5 L450.5,501.5 L450.5,499.5 L451.5,499.5 L451.5,499.4 L452.5,499.4 L452.5,502 L453.5,502 L453.5,501 L454.5,501 L454.5,500.8 L455.5,500.8 L455.5,500.6 L456.5,500.6 L456.5,501.7 L457.5,501.7 L457.5,502.4 L458.5,502.4 L458.5,501.7 L459.5,501.7 L459.5,501.7 L460.5,501.7 L460.5,501 L461.5,501 L461.5,503.3 L462.5,503.3 L462.5,501.4 L463.5,501.4 L463.5,502.6 L464.5,502.6 L464.5,503.5 L465.5,503.5 L465.5,502 L466.5,502 L466.5,503.4 L467.5,503.4 L467.5,504 L468.5,504 L468.5,503.3 L469.5,503.3 L469.5,503.7 L470.5,503.7 L470.5,502.3 L471.5,502.3 L471.5,503.1 L472.5,503.1 L472.5,502.5 L473.5,502.5 L473.5,504.1 L474.5,504.1 L474.5,503 L475.5,503 L475.5,503.4 L476.5,503.4 L476.5,504.6 L477.5,504.6 L477.5,504.3 L478.5,504.3 L478.5,504.7 L479.5,504.7 L479.5,503.6 L480.5,503.6 L480.5,503.7 L481.5,503.7 L481.5,504.3 L482.5,504.3 L482.5,503.8 L483.5,503.8 L483.5,503.5 L484.5,503.5 L484.5,503.8 L485.5,503.8 L485.5,503.3 L486.5,503.3 L486.5,503.9 L487.5,503.9 L487.5,505.2 L488.5,505.2 L488.5,505.2 L489.5,505.2 L489.5,504.6 L490.5,504.6 L490.5,504.3 L491.5,504.3 L491.5,504 L492.5,504 L492.5,503.6 L493.5,503.6 L493.5,504 L494.5,504 L494.5,505 L495.5,505 L495.5,505.2 L496.5,505.2 L496.5,504.3 L497.5,504.3 L497.5,505.1 L498.5,505.1 L498.5,505.1 L499.5,505.1 L499.5,505 L500.5,505 L500.5,505 L501.5,505 L501.5,505.2 L502.5,505.2 L502.5,504.5 L503.5,504.5 L503.5,505.2 L504.5,505.2 L504.5,504.4 L505.5,504.4 L505.5,504.8 L506.5,504.8 L506.5,505.4 L507.5,505.4 L507.5,505.3 L508.5,505.3 L508.5,504.5 L509.5,504.5 L509.5,505.8 L510.5,505.8 L510.5,505.3 L511.5,505.3 L511.5,505.2 L512.5,505.2 L512.5,504.1 L513.5,504.1 L513.5,505.2 L514.5,505.2 L514.5,504.7 L515.5,504.7 L515.5,505.5 L516.5,505.5 L516.5,505.1 L517.5,505.1 L517.5,505.9 L518.5,505.9 L518.5,505.6 L519.5,505.6 L519,509.1 L518,509.1 L517,509 L516,509 L515,509 L514,509 L513,509 L512,508.9 L511,508.9 L510,508.9 L509,508.9 L508,508.8 L507,508.8 L506,508.8 L505,508.8 L504,508.7 L503,508.7 L502,508.7 L501,508.6 L500,508.6 L499,508.6 L498,508.5 L497,508.5 L496,508.5 L495,508.4 L494,508.4 L493,508.4 L492,508.3 L491,508.3 L490,508.3 L489,508.3 L488,508.2 L487,508.2 L486,508.2 L485,508.1 L484,508.1 L483,508 L482,508 L481,508 L480,507.9 L479,507.9 L478,507.9 L477,507.8 L476,507.8 L475,507.8 L474,507.7 L473,507.7 L472,507.6 L471,507.6 L470,507.6 L469,507.5 L468,507.5 L467,507.4 L466,507.3 L465,507.2 L464,507.1 L463,507.1 L462,507 L461,506.9 L460,506.8 L459,506.7 L458,506.6 L457,506.5 L456,506.4 L455,506.3 L454,506.2 L453,506 L452,505.7 L451,505.5 L450,505.3 L449,505.1 L448,504.9 L447,504.7 L446,504.4 L445,504.2 L444,504 L443,503.8 L442,503.4 L441,503 L440,502.6 L439,502.2 L438,501.8 L437,501.4 L436,501 L435,500.6 L434,500 L433,499.4 L432,498.8 L431,498.2 L430,497.6 L429,497.1 L428,496.6 L427,496 L426,495.5 L425,495 L424,494.5 L423,493.8 L422,493.2 L421,492.5 L420,491.9 L419,491.2 L418,490.6 L417,489.9 L416,489.1 L415,488.2 L414,487.3 L413,486.4 L412,485.5 L411,484.5 L410,483.6 L409,482.7 L408,481.4 L407,479.9 L406,478.5 L405,477.1 L404,475.6 L403,474.2 L402,472.7 L401,471.2 L400,469.7 L399,468.2 L398,466.7 L397,465.1 L396,463.2 L395,461.4 L394,459.6 L393,457.7 L392,455.9 L391,453.7 L390,451.2 L389,448.7 L388,446.2 L387,443.3 L386,440.3 L385,437.4 L384,434.4 L383,431.4 L382,428.5 L381,425.5 L380,423.6 L379,422.7 L378,421.9 L377,421.1 L376,421.7 L375,422.9 L374,424.1 L373,425.4 L372,427.7 L371,431 L370,434.3 L369,438.2 L368,442.6 L367,447 L366,451.7 L365,456.8 L364,461.9 L363,467 L362,473.3 L361,480.2 L360,487 L359,492.6 L358,498 L357,503.9 L356,509.8 L355,515.7 L354,518.6 L353,518.6 Z" fill="#e8e8e8" stroke="none"/>
<path d="M355.5,511.7 L356.5,511.7 L356.5,509.7 L357.5,509.7 L357.5,506.8 L358.5,506.8 L358.5,506.2 L359.5,506.2 L359.5,501.8 L360.5,501.8 L360.5,500.6 L361.5,500.6 L361.5,499.4 L362.5,499.4 L362.5,495.6 L363.5,495.6 L363.5,494.8 L364.5,494.8 L364.5,493.1 L365.5,493.1 L365.5,489.8 L366.5,489.8 L366.5,489.2 L367.5,489.2 L367.5,489.1 L368.5,489.1 L368.5,487.5 L369.5,487.5 L369.5,487.3 L370.5,487.3 L370.5,485 L371.5,485 L371.5,484.7 L372.5,484.7 L372.5,484.3 L373.5,484.3 L373.5,485 L374.5,485 L374.5,485.9 L375.5,485.9 L375.5,485.3 L376.5,485.3 L376.5,486.1 L377.5,486.1 L377.5,485.6 L378.5,485.6 L378.5,486.8 L379.5,486.8 L379.5,485.7 L380.5,485.7 L380.5,486.5 L381.5,486.5 L381.5,488.9 L382.5,488.9 L382.5,490.5 L383.5,490.5 L383.5,491.2 L384.5,491.2 L384.5,491.8 L385.5,491.8 L385.5,493.8 L386.5,493.8 L386.5,495.2 L387.5,495.2 L387.5,496.9 L388.5,496.9 L388.5,499.8 L389.5,499.8 L389.5,499.9 L390.5,499.9 L390.5,503.1 L391.5,503.1 L391.5,504.4 L392.5,504.4 L392.5,503.3 L393.5,503.3 L393.5,505 L394.5,505 L394.5,506.2 L395.5,506.2 L395.5,505.9 L396.5,505.9 L396.5,507.8 L397.5,507.8 L397.5,509.9 L398.5,509.9 L398.5,508.9 L399.5,508.9 L399.5,510.5 L400.5,510.5 L400.5,509.6 L401.5,509.6 L401.5,511 L402.5,511 L402.5,512 L403.5,512 L403.5,510.8 L404.5,510.8 L404.5,510.7 L405.5,510.7 L405.5,511.2 L406.5,511.2 L406.5,512.4 L407.5,512.4 L407.5,511.8 L408.5,511.8 L408.5,512.2 L409.5,512.2 L409.5,513.3 L410.5,513.3 L410.5,514.2 L411.5,514.2 L411.5,513.5 L412.5,513.5 L412.5,513.5 L413.5,513.5 L413.5,514 L414.5,514 L414.5,513.2 L415.5,513.2 L415.5,514 L416.5,514 L416.5,513.5 L417.5,513.5 L417.5,514.2 L418.5,514.2 L418.5,514.8 L419.5,514.8 L419.5,513.6 L420.5,513.6 L420.5,514.4 L421.5,514.4 L421.5,514.5 L422.5,514.5 L422.5,514 L423.5,514 L423.5,514.2 L424.5,514.2 L424.5,515.3 L425.5,515.3 L425.5,515.3 L426.5,515.3 L426.5,514.3 L427.5,514.3 L427.5,515.1 L428.5,515.1 L428.5,515.5 L429.5,515.5 L429.5,514.7 L430.5,514.7 L430.5,515.2 L431.5,515.2 L431.5,514.5 L432.5,514.5 L432.5,514.9 L433.5,514.9 L433.5,515.3 L434.5,515.3 L434.5,515.2 L435.5,515.2 L435.5,515.4 L436.5,515.4 L436.5,514.6 L437.5,514.6 L437.5,514.9 L438.5,514.9 L438.5,515.6 L439.5,515.6 L439.5,515.2 L440.5,515.2 L440.5,515.1 L441.5,515.1 L441.5,515 L442.5,515 L442.5,515.8 L443.5,515.8 L443.5,515.3 L444.5,515.3 L444.5,514.6 L445.5,514.6 L445.5,515.6 L446.5,515.6 L446.5,515 L447.5,515 L447.5,515.1 L448.5,515.1 L448.5,514.9 L449.5,514.9 L449.5,515.2 L450.5,515.2 L450.5,515.1 L451.5,515.1 L451.5,514.8 L452.5,514.8 L452.5,515.4 L453.5,515.4 L453.5,514.8 L454.5,514.8 L454.5,515.6 L455.5,515.6 L455.5,514.8 L456.5,514.8 L456.5,515.7 L457.5,515.7 L457.5,515.7 L458.5,515.7 L458.5,515.4 L459.5,515.4 L459.5,515.6 L460.5,515.6 L460.5,515.1 L461.5,515.1 L461.5,515.7 L462.5,515.7 L462.5,515.3 L463.5,515.3 L463.5,515.1 L464.5,515.1 L464.5,516 L465.5,516 L465.5,515.3 L466.5,515.3 L466.5,515.3 L467.5,515.3 L467.5,515.9 L468.5,515.9 L468.5,515.3 L469.5,515.3 L469.5,515.7 L470.5,515.7 L470.5,515.1 L471.5,515.1 L471.5,515.9 L472.5,515.9 L472.5,515.2 L473.5,515.2 L473.5,515 L474.5,515 L474.5,516 L475.5,516 L475.5,515.1 L476.5,515.1 L476.5,516 L477.5,516 L477.5,516.1 L478.5,516.1 L478.5,515.6 L479.5,515.6 L479.5,514.9 L480.5,514.9 L480.5,515 L481.5,515 L481.5,515.2 L482.5,515.2 L482.5,515.4 L483.5,515.4 L483.5,515.6 L484.5,515.6 L484.5,516 L485.5,516 L485.5,515.3 L486.5,515.3 L486.5,515.1 L487.5,515.1 L487.5,515.6 L488.5,515.6 L488.5,515.1 L489.5,515.1 L489.5,515 L490.5,515 L490.5,515.6 L491.5,515.6 L491.5,515.7 L492.5,515.7 L492.5,515 L493.5,515 L493.5,515.4 L494.5,515.4 L494.5,515.7 L495.5,515.7 L495.5,515.8 L496.5,515.8 L496.5,515.4 L497.5,515.4 L497.5,516 L498.5,516 L498.5,515.1 L499.5,515.1 L499.5,515.8 L500.5,515.8 L500.5,515.8 L501.5,515.8 L501.5,515.9 L502.5,515.9 L502.5,515.5 L503.5,515.5 L503.5,515 L504.5,515 L504.5,515 L505.5,515 L505.5,515.5 L506.5,515.5 L506.5,515.1 L507.5,515.1 L507.5,515.7 L508.5,515.7 L508.5,515 L509.5,515 L509.5,515.8 L510.5,515.8 L510.5,515.2 L511.5,515.2 L511.5,514.9 L512.5,514.9 L512.5,515.1 L513.5,515.1 L513.5,515.4 L514.5,515.4 L514.5,515.6 L515.5,515.6 L515.5,515.4 L516.5,515.4 L516.5,515.1 L517.5,515.1 L517.5,515.5 L518.5,515.5 L518.5,516 L519.5,516 L519,517.9 L518,517.9 L517,517.9 L516,517.9 L515,517.9 L514,517.9 L513,517.9 L512,517.9 L511,517.9 L510,517.9 L509,517.9 L508,517.9 L507,517.9 L506,517.9 L505,517.9 L504,517.9 L503,517.9 L502,517.9 L501,517.9 L500,517.9 L499,517.9 L498,517.9 L497,517.9 L496,517.9 L495,517.9 L494,517.8 L493,517.8 L492,517.8 L491,517.8 L490,517.8 L489,517.8 L488,517.8 L487,517.8 L486,517.8 L485,517.8 L484,517.8 L483,517.8 L482,517.8 L481,517.8 L480,517.8 L479,517.8 L478,517.8 L477,517.8 L476,517.8 L475,517.8 L474,517.8 L473,517.8 L472,517.8 L471,517.8 L470,517.8 L469,517.8 L468,517.8 L467,517.8 L466,517.8 L465,517.8 L464,517.8 L463,517.7 L462,517.7 L461,517.7 L460,517.7 L459,517.7 L458,517.7 L457,517.7 L456,517.7 L455,517.7 L454,517.7 L453,517.7 L452,517.7 L451,517.7 L450,517.6 L449,517.6 L448,517.6 L447,517.6 L446,517.6 L445,517.6 L444,517.6 L443,517.6 L442,517.6 L441,517.6 L440,517.6 L439,517.6 L438,517.6 L437,517.6 L436,517.5 L435,517.5 L434,517.5 L433,517.5 L432,517.5 L431,517.5 L430,517.5 L429,517.5 L428,517.4 L427,517.4 L426,517.3 L425,517.3 L424,517.2 L423,517.2 L422,517.2 L421,517.1 L420,517.1 L419,517 L418,517 L417,517 L416,516.9 L415,516.9 L414,516.8 L413,516.8 L412,516.8 L411,516.7 L410,516.6 L409,516.4 L408,516.3 L407,516.1 L406,516 L405,515.9 L404,515.7 L403,515.6 L402,515.4 L401,515.3 L400,515.1 L399,514.9 L398,514.5 L397,514.1 L396,513.6 L395,513.2 L394,512.8 L393,512.3 L392,511.9 L391,511.1 L390,510 L389,508.9 L388,507.8 L387,506.7 L386,505.6 L385,504.4 L384,503.1 L383,501.8 L382,500.6 L381,499.3 L380,498.7 L379,498.1 L378,497.5 L377,496.9 L376,496.4 L375,496.7 L374,496.9 L373,497.2 L372,497.4 L371,498 L370,499.1 L369,500.3 L368,501.4 L367,502.6 L366,504.3 L365,506.5 L364,508.8 L363,511 L362,513.3 L361,515.3 L360,516.9 L359,518.4 L358,519.3 L357,519.6 L356,519.8 Z" fill="#e8e8e8" stroke="none"/>
<line x1="348.8" y1="519.9" x2="519.5" y2="519.9" stroke="#d2d2d2" stroke-width="1"/>
<line x1="348.8" y1="519.9" x2="348.8" y2="522.4" stroke="#d2d2d2" stroke-width="1"/>
<line x1="384.6" y1="519.9" x2="384.6" y2="522.4" stroke="#d2d2d2" stroke-width="1"/>
<line x1="421.4" y1="519.9" x2="421.4" y2="522.4" stroke="#d2d2d2" stroke-width="1"/>
<line x1="458.3" y1="519.9" x2="458.3" y2="522.4" stroke="#d2d2d2" stroke-width="1"/>
<line x1="494.2" y1="519.9" x2="494.2" y2="522.4" stroke="#d2d2d2" stroke-width="1"/>
<line x1="348.8" y1="353.2" x2="348.8" y2="515.5" stroke="#2a2a2a" stroke-width="1.2"/>
<line x1="345" y1="519.9" x2="348.8" y2="519.9" stroke="#2a2a2a" stroke-width="1.2"/>
<line x1="345" y1="468.9" x2="348.8" y2="468.9" stroke="#2a2a2a" stroke-width="1.2"/>
<line x1="345" y1="417.5" x2="348.8" y2="417.5" stroke="#2a2a2a" stroke-width="1.2"/>
<line x1="345" y1="366.1" x2="348.8" y2="366.1" stroke="#2a2a2a" stroke-width="1.2"/>
<text x="342.5" y="528.5" font-size="16.3" font-weight="bold" text-anchor="end" fill="#0d0d0d" stroke="#0d0d0d" stroke-width="0.4">0</text>
<text x="343.5" y="475.7" font-size="16.3" font-weight="bold" text-anchor="end" fill="#0d0d0d" stroke="#0d0d0d" stroke-width="0.4">400</text>
<text x="343" y="424.3" font-size="16.3" font-weight="bold" text-anchor="end" fill="#0d0d0d" stroke="#0d0d0d" stroke-width="0.4">800</text>
<text x="343" y="372.9" font-size="16.3" font-weight="bold" text-anchor="end" fill="#0d0d0d" stroke="#0d0d0d" stroke-width="0.4">1200</text>
<text x="348.8" y="540.7" font-size="16.3" font-weight="bold" text-anchor="middle" fill="#0d0d0d" stroke="#0d0d0d" stroke-width="0.4">0</text>
<text x="384.1" y="540.7" font-size="16.3" font-weight="bold" text-anchor="middle" fill="#0d0d0d" stroke="#0d0d0d" stroke-width="0.4">40</text>
<text x="420.9" y="540.7" font-size="16.3" font-weight="bold" text-anchor="middle" fill="#0d0d0d" stroke="#0d0d0d" stroke-width="0.4">80</text>
<text x="457.8" y="540.7" font-size="16.3" font-weight="bold" text-anchor="middle" fill="#0d0d0d" stroke="#0d0d0d" stroke-width="0.4">120</text>
<text x="493.7" y="540.7" font-size="16.3" font-weight="bold" text-anchor="middle" fill="#0d0d0d" stroke="#0d0d0d" stroke-width="0.4">160</text>
<text x="398.5" y="561.3" font-size="16.5" font-weight="bold" text-anchor="start" fill="#0d0d0d" stroke="#0d0d0d" stroke-width="0.4" textLength="63.5" lengthAdjust="spacingAndGlyphs">Time (s)</text>
<text transform="translate(287.8,521.4) rotate(-90)" font-size="16" font-weight="bold" fill="#0d0d0d" stroke="#0d0d0d" stroke-width="0.4" textLength="166.5" lengthAdjust="spacingAndGlyphs">Thrombus size (<tspan font-weight="normal" stroke-width="0.15">&#956;</tspan>m<tspan font-size="12" dy="-6">2</tspan><tspan dy="6">)</tspan></text>
<line x1="348.8" y1="520.3" x2="354.8" y2="517.2" stroke="#333" stroke-width="0.8"/>
<path d="M354.5,518.6 L356.3,508 L358,498 L359.9,487.7 L362.7,468.5 L366.5,449.2 L369.5,436 L372.5,426 L376.7,420.8 L380.5,424 L383.8,433.8 L387.7,445.4 L391.5,455 L397.3,465.6 L403,474.2 L408.8,482.5 L416.5,489.6 L424.2,494.6 L430,497.6 L435.4,500.8 L443,503.8 L454.6,506.3 L468,507.5 L487.3,508.2 L506.5,508.8 L519.3,509.1" fill="none" stroke="#000" stroke-width="5" stroke-linejoin="round" stroke-linecap="butt"/>
<path d="M354.6,520.2 L358.5,519.2 L361.5,514.5 L363.8,509.2 L366.5,503.2 L371.3,497.6 L376.2,496.4 L381,499.3 L385.8,505.4 L391.5,511.7 L399.2,515 L410.8,516.7 L430,517.5 L470,517.8 L519.3,517.9" fill="none" stroke="#808080" stroke-width="5.2" stroke-linejoin="round" stroke-linecap="round"/>
<text x="439.4" y="473.7" font-size="17.4" font-weight="bold" text-anchor="start" fill="#808080" stroke="#808080" stroke-width="0.4" textLength="76.2" lengthAdjust="spacingAndGlyphs">+ hirudin</text>
<text x="393.2" y="347.4" font-size="18" font-weight="bold" fill="#0d0d0d" stroke="#0d0d0d" stroke-width="0.4">ii) FcR<tspan font-weight="normal" stroke-width="0.1" font-style="italic" font-family="'Liberation Serif',serif" font-size="22">&#947;</tspan><tspan font-size="11.5" dy="-6.5" dx="0.8">-/-</tspan></text>
</g>
</svg></body></html>
